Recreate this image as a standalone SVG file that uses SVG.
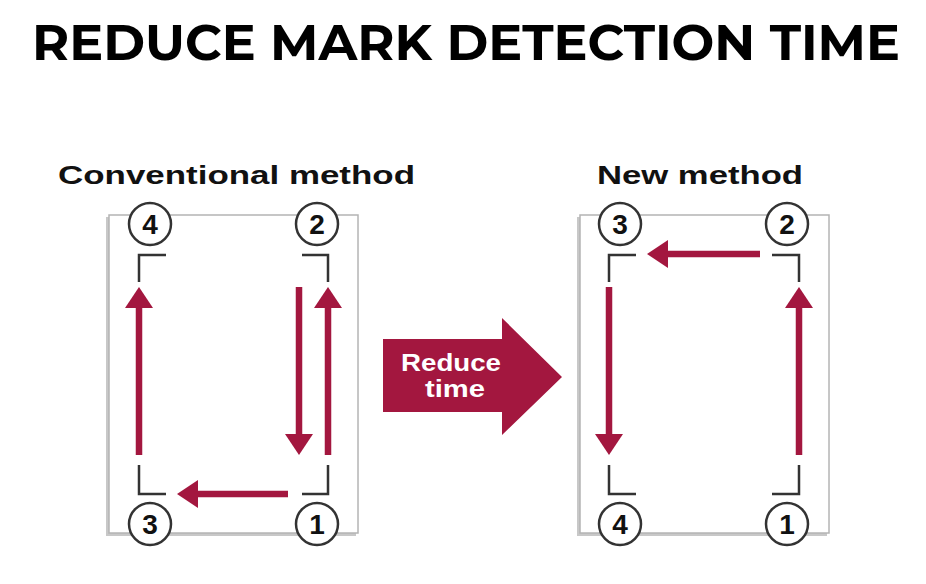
<svg xmlns="http://www.w3.org/2000/svg" width="926" height="584" viewBox="0 0 926 584">
<defs>
<style>
.title{font-family:"Montserrat","Liberation Sans",Arial,sans-serif;font-weight:bold;font-size:50px;fill:#000}
.sub{font-family:"Liberation Sans",Arial,sans-serif;font-weight:bold;font-size:25px;fill:#111}
.paper{fill:#fff;stroke:#b4b4b4;stroke-width:1.5}
.shadow{fill:#c8c8c8}
.num circle{fill:#fff;stroke:#333;stroke-width:2.5}
.num text{font-family:"Liberation Sans",Arial,sans-serif;font-weight:bold;font-size:28px;fill:#111;text-anchor:middle}
.br{fill:none;stroke:#333;stroke-width:2.5}
.shaft{stroke:#a3173f;stroke-width:6.5;fill:none}
.head{fill:#a3173f}
.big{fill:#a3173f}
.bigt{font-family:"Liberation Sans",Arial,sans-serif;font-weight:bold;font-size:24px;fill:#fff;text-anchor:middle}
</style>
</defs>
<rect width="926" height="584" fill="#fff"/>
<text class="title" x="32" y="60" textLength="868" lengthAdjust="spacingAndGlyphs">REDUCE MARK DETECTION TIME</text>

<g id="conventional">
<text class="sub" x="58" y="184" textLength="357" lengthAdjust="spacingAndGlyphs">Conventional method</text>
<rect class="shadow" x="106" y="217" width="250" height="319"/>
<rect class="paper" x="109" y="215" width="249" height="318"/>
<path class="br" d="M139,282V255H166 M302,255H328V282 M139,465V494H166 M302,494H328V465"/>
<g id="c-n4" class="num"><circle cx="150" cy="224" r="21"/><text x="150" y="234">4</text></g>
<g id="c-n2" class="num"><circle cx="317" cy="224" r="21"/><text x="317" y="234">2</text></g>
<g id="c-n3" class="num"><circle cx="150" cy="524" r="21"/><text x="150" y="534">3</text></g>
<g id="c-n1" class="num"><circle cx="317" cy="524" r="21"/><text x="317" y="534">1</text></g>
<g id="c-arrows">
<line class="shaft" x1="299" y1="287" x2="299" y2="437"/><polygon class="head" points="285,434 313,434 299,455"/>
<line class="shaft" x1="328" y1="455" x2="328" y2="305"/><polygon class="head" points="314,308 342,308 328,287"/>
<line class="shaft" x1="288" y1="494" x2="195" y2="494"/><polygon class="head" points="198,480 198,508 177,494"/>
<line class="shaft" x1="139" y1="455" x2="139" y2="305"/><polygon class="head" points="125,308 153,308 139,287"/>
</g>
</g>

<g id="reduce">
<polygon class="big" points="383,339 502,339 502,318 562,377 502,435 502,412 383,412"/>
<text class="bigt" x="451" y="371" textLength="100" lengthAdjust="spacingAndGlyphs">Reduce</text>
<text class="bigt" x="455" y="397" textLength="60" lengthAdjust="spacingAndGlyphs">time</text>
</g>

<g id="new">
<text class="sub" x="597" y="184" textLength="206" lengthAdjust="spacingAndGlyphs">New method</text>
<rect class="shadow" x="577" y="217" width="250" height="319"/>
<rect class="paper" x="580" y="215" width="249" height="318"/>
<path class="br" d="M609,282V255H636 M772,255H799V282 M609,465V494H636 M772,494H799V465"/>
<g id="n-n3" class="num"><circle cx="620" cy="224" r="21"/><text x="620" y="234">3</text></g>
<g id="n-n2" class="num"><circle cx="787" cy="224" r="21"/><text x="787" y="234">2</text></g>
<g id="n-n4" class="num"><circle cx="620" cy="524" r="21"/><text x="620" y="534">4</text></g>
<g id="n-n1" class="num"><circle cx="787" cy="524" r="21"/><text x="787" y="534">1</text></g>
<g id="n-arrows">
<line class="shaft" x1="799" y1="455" x2="799" y2="305"/><polygon class="head" points="785,308 813,308 799,287"/>
<line class="shaft" x1="760" y1="254" x2="665" y2="254"/><polygon class="head" points="668,240 668,268 647,254"/>
<line class="shaft" x1="609" y1="287" x2="609" y2="437"/><polygon class="head" points="595,434 623,434 609,455"/>
</g>
</g>
</svg>
